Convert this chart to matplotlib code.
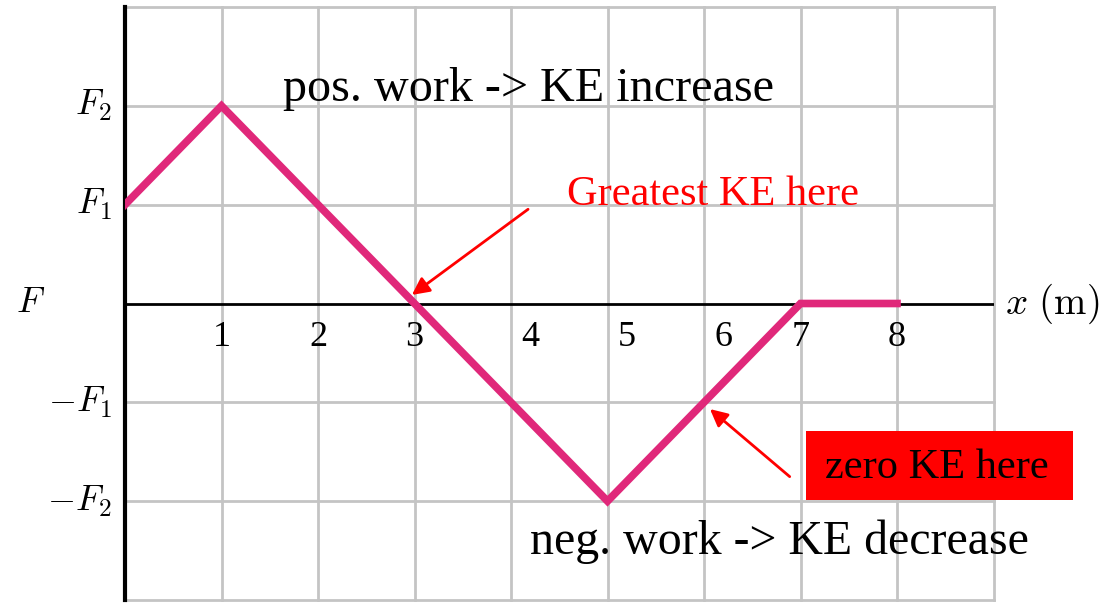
import matplotlib.pyplot as plt
from matplotlib.patches import Rectangle

plt.rcParams['font.family'] = ['Liberation Serif', 'DejaVu Serif']
plt.rcParams['mathtext.fontset'] = 'cm'

# force curve, F1 = 1, F2 = 2
x_pts = [0, 1, 3, 5, 7, 8]
f_pts = [1, 2, 0, -2, 0, 0]

x_ticks = [1, 2, 3, 4, 5, 6, 7, 8]
x_tick_pos = [1.0, 2.0, 3.0, 4.2, 5.2, 6.2, 7.0, 8.0]
y_ticks = [2, 1, 0, -1, -2]
y_tick_labels = ['$F_2$', '$F_1$', '$F$', '$-F_1$', '$-F_2$']

pink = '#e0287a'
grid_c = '#c4c4c4'

fig = plt.figure(figsize=(11.10, 6.03), dpi=100)
ax = fig.add_axes([125 / 1110, 3 / 603, 868.5 / 1110, 593 / 603])
ax.set_xlim(0, 9)
ax.set_ylim(-3, 3)

for xv in range(1, 10):
    ax.plot([xv, xv], [-3, 3], color=grid_c, lw=2, zorder=1, clip_on=False)
for yv in [-3, -2, -1, 1, 2, 3]:
    ax.plot([0, 9], [yv, yv], color=grid_c, lw=2, zorder=1, clip_on=False)

ax.plot([0, 9], [0, 0], color='black', lw=2, zorder=2)
ax.plot([0, 0], [-3, 3], color='black', lw=3, zorder=2, clip_on=False)

ax.plot(x_pts, f_pts, color=pink, lw=5.5, zorder=3, solid_joinstyle='miter')

for s in ax.spines.values():
    s.set_visible(False)
ax.set_xticks([])
ax.set_yticks([])

for lab, xp in zip(x_ticks, x_tick_pos):
    ax.text(xp, -0.34, str(lab), ha='center', va='center', fontsize=26, zorder=4)

for yv, lab in zip(y_ticks, y_tick_labels):
    if lab == '$F$':
        ax.text(-0.98, yv, lab, ha='center', va='center', fontsize=26)
    else:
        ax.text(-0.14, yv, lab, ha='right', va='center', fontsize=26)

ax.text(9.12, 0, r'$x\ (\mathrm{m})$', ha='left', va='center', fontsize=28, clip_on=False)

ax.text(1.64, 2.17, 'pos. work -> KE increase', ha='left', va='center', fontsize=34.7)
ax.text(4.2, -2.41, 'neg. work -> KE decrease', ha='left', va='center', fontsize=34.5)

ax.text(4.58, 1.1, 'Greatest KE here', ha='left', va='center', fontsize=30.5, color='red')
ax.annotate('', xy=(2.95, 0.07), xytext=(4.2, 0.97),
            arrowprops=dict(arrowstyle='-|>', color='red', lw=2, mutation_scale=26))

ax.add_patch(Rectangle((7.057, -1.985), 2.763, 0.699, facecolor='red',
                       edgecolor='none', zorder=4, clip_on=False))
ax.text(8.41, -1.66, 'zero KE here', ha='center', va='center', fontsize=30.5,
        color='black', zorder=5)
ax.annotate('', xy=(6.04, -1.05), xytext=(6.91, -1.77),
            arrowprops=dict(arrowstyle='-|>', color='red', lw=2, mutation_scale=26))

fig.savefig('out.png', dpi=100)
